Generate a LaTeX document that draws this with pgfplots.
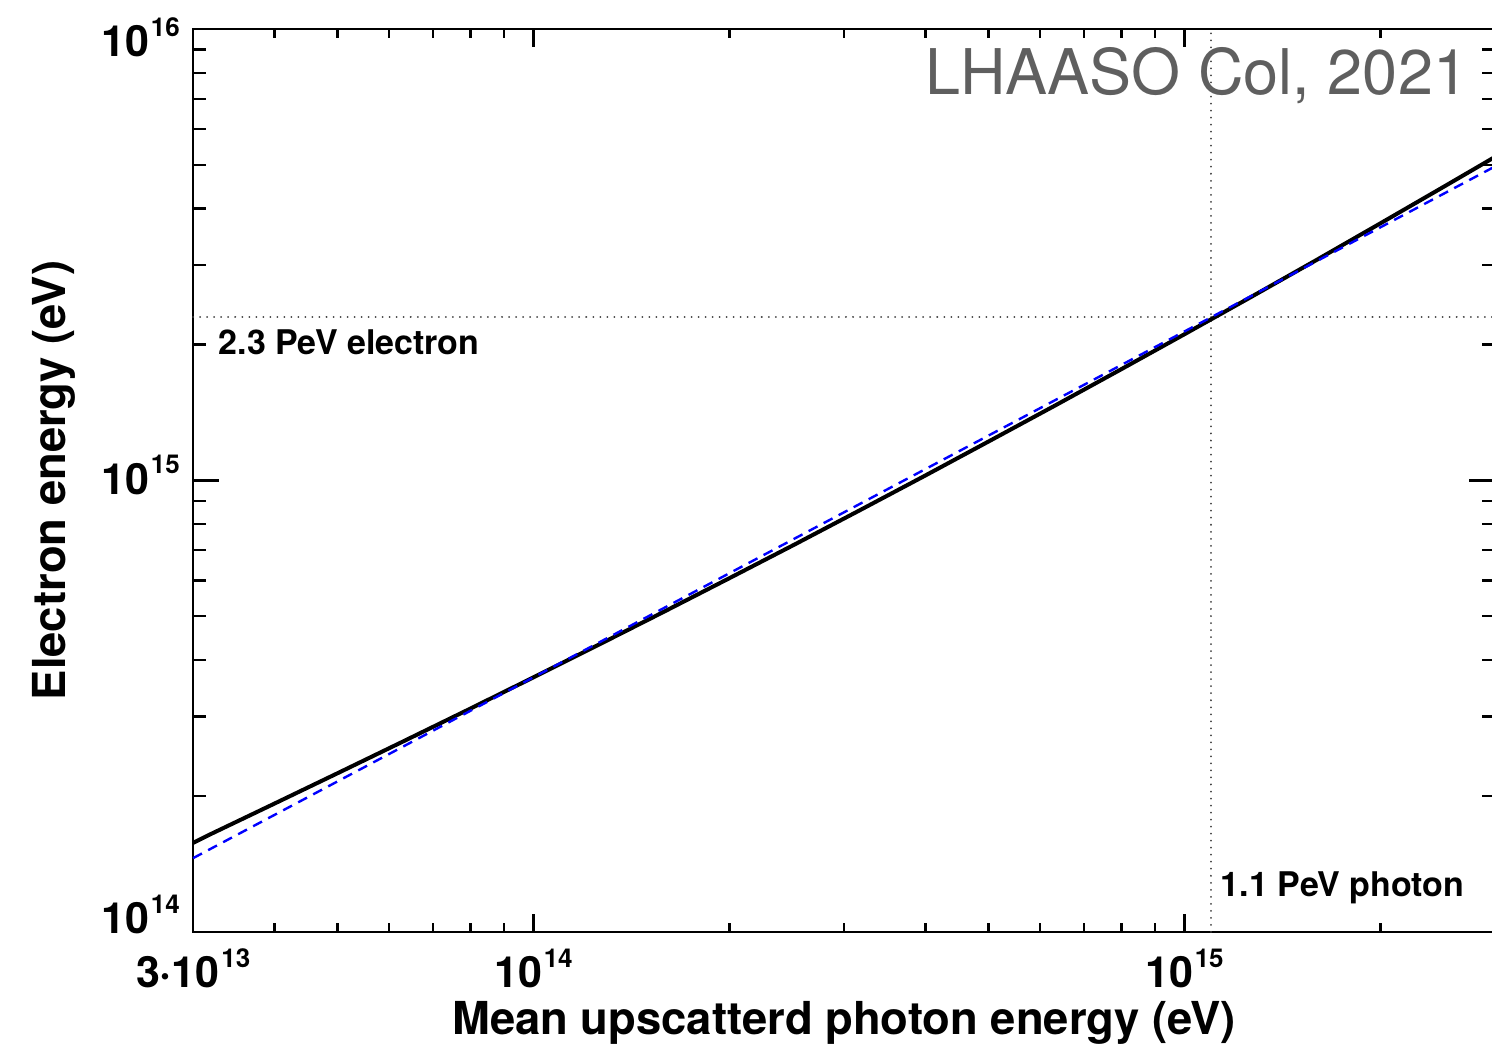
\documentclass[border=0pt]{standalone}
\usepackage{pgfplots}
\pgfplotsset{compat=1.18}
\usepackage{fontspec}
\setmainfont{TeX Gyre Heros}

% bold "mantissa^exponent" tick label
\newcommand\tpow[2]{\mbox{\fontsize{21.5}{21.5}\selectfont\bfseries #1\kern0.8pt\raisebox{10.3pt}{\fontsize{13}{13}\selectfont\bfseries #2}}}

\definecolor{credit}{RGB}{95,95,95}

\pgfplotsset{
  boxframe/.style={
    scale only axis,
    width=651pt, height=451.5pt,
    xmin=3e13, xmax=3e15, ymin=1e14, ymax=1e16,
    axis line style={line width=1.25pt},
    tick style={line width=1.1pt, black},
    tick align=inside,
    clip=false,
  }
}

\begin{document}
\begin{tikzpicture}
\path[use as bounding box] (-96.5pt,-59pt) rectangle (649.5pt,466pt);

% x ticks (shorter marks)
\begin{loglogaxis}[boxframe,
  xtick={3e13,1e14,1e15},
  xticklabels={{\tpow{3·10}{13}},{\tpow{10}{14}},{\tpow{10}{15}}},
  minor xtick={4e13,5e13,6e13,7e13,8e13,9e13,2e14,3e14,4e14,5e14,6e14,7e14,8e14,9e14,2e15},
  ytick=\empty, yminorticks=false,
  major tick length=9pt, minor tick length=4.5pt,
  xticklabel style={anchor=base, yshift=-28pt, inner sep=0pt},
]
\end{loglogaxis}

% y ticks, curves and annotations
\begin{loglogaxis}[boxframe,
  xtick=\empty, xminorticks=false,
  ytick={1e14,1e15,1e16},
  yticklabels={{\raisebox{6pt}{\tpow{10}{14}}},{\tpow{10}{15}},{\raisebox{-7pt}{\tpow{10}{16}}}},
  minor ytick={2e14,3e14,4e14,5e14,6e14,7e14,8e14,9e14,2e15,3e15,4e15,5e15,6e15,7e15,8e15,9e15},
  major tick length=13pt, minor tick length=6.5pt,
  yticklabel style={anchor=base east, xshift=-6.5pt, yshift=-7pt, inner sep=0pt},
]
% reference energies
\addplot[black!75, line width=1pt, line cap=round, dash pattern=on 0.01pt off 3.5pt]
  coordinates {(3e13,2.3e15) (3e15,2.3e15)};
\addplot[black!75, line width=1pt, line cap=round, dash pattern=on 0.01pt off 3.5pt]
  coordinates {(1.1e15,1e14) (1.1e15,1e16)};

% electron energy vs mean upscattered photon energy
\addplot[black, line width=2pt] coordinates {
  (3.0e13,1.575e14) (3.162e13,1.636e14) (3.981e13,1.918e14) (5.012e13,2.250e14)
  (6.310e13,2.643e14) (7.943e13,3.108e14) (1.0e14,3.664e14) (1.259e14,4.325e14)
  (1.585e14,5.116e14) (1.995e14,6.063e14) (2.512e14,7.200e14) (3.162e14,8.570e14)
  (3.981e14,1.0219e15) (5.012e14,1.2218e15) (6.310e14,1.4622e15) (7.943e14,1.7539e15)
  (1.0e15,2.108e15) (1.259e15,2.538e15) (1.585e15,3.062e15) (1.995e15,3.703e15)
  (2.512e15,4.487e15) (3.0e15,5.209e15)
};
% power-law approximation
\addplot[blue, line width=1.2pt, dash pattern=on 5pt off 3.5pt] coordinates {
  (3.0e13,1.457e14) (1.1e15,2.3e15) (3.0e15,4.961e15)
};

\node[anchor=base west, inner sep=0pt, font=\fontsize{17}{17}\selectfont\bfseries]
  at (axis cs:3.28e13,1.898e15) {2.3 PeV electron};
\node[anchor=base west, inner sep=0pt, font=\fontsize{17}{17}\selectfont\bfseries]
  at (axis cs:1.136e15,1.195e14) {1.1 PeV photon};
\node[anchor=base east, inner sep=0pt, text=credit, font=\fontsize{31.5}{31.5}\selectfont]
  at (axis cs:2.73e15,7.14e15) {LHAASO Col, 2021};

\node[yshift=-51.5pt, anchor=base, inner sep=0pt, font=\fontsize{22.7}{22.7}\selectfont\bfseries]
  at (rel axis cs:0.5,0) {Mean upscatterd photon energy (eV)};
\node[xshift=-64pt, rotate=90, anchor=base, inner sep=0pt, font=\fontsize{22.7}{22.7}\selectfont\bfseries]
  at (rel axis cs:0,0.5) {Electron energy (eV)};
\end{loglogaxis}
\end{tikzpicture}
\end{document}
